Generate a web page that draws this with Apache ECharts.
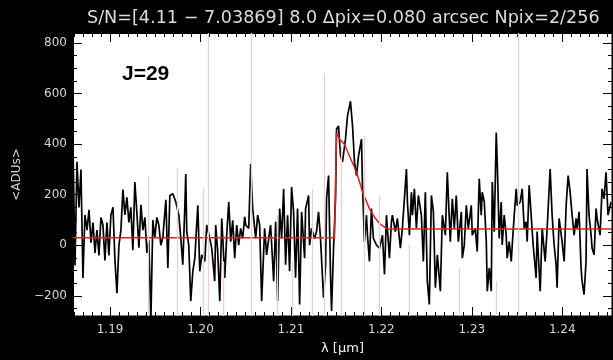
<!DOCTYPE html>
<html>
<head>
    <meta charset="UTF-8">
    <title>J=29 spectrum</title>
    <script src="https://cdn.jsdelivr.net/npm/echarts@6/dist/echarts.min.js"></script>
    <style>
        html, body { margin: 0; padding: 0; background: #000; }
        #main { width: 613px; height: 360px; }
    </style>
</head>
<body>
<div id="main"></div>
<script>
    // wavelength (um) of each sample
    var lambda = [
        1.18590, 1.18612, 1.18634, 1.18656, 1.18678, 1.18700, 1.18722, 1.18745, 1.18767, 1.18789,
        1.18811, 1.18833, 1.18855, 1.18877, 1.18899, 1.18921, 1.18943, 1.18965, 1.18987, 1.19009,
        1.19032, 1.19054, 1.19076, 1.19098, 1.19120, 1.19142, 1.19164, 1.19186, 1.19208, 1.19230,
        1.19252, 1.19274, 1.19296, 1.19319, 1.19341, 1.19363, 1.19385, 1.19407, 1.19429, 1.19451,
        1.19473, 1.19495, 1.19517, 1.19539, 1.19561, 1.19583, 1.19617, 1.19639, 1.19661, 1.19694,
        1.19727, 1.19760, 1.19782, 1.19804, 1.19826, 1.19837, 1.19848, 1.19870, 1.19892, 1.19915,
        1.19937, 1.19970, 1.19992, 1.20014, 1.20047, 1.20069, 1.20102, 1.20124, 1.20157, 1.20168,
        1.20190, 1.20213, 1.20235, 1.20268, 1.20290, 1.20312, 1.20334, 1.20356, 1.20378, 1.20400,
        1.20422, 1.20444, 1.20466, 1.20489, 1.20500, 1.20533, 1.20555, 1.20577, 1.20610, 1.20632,
        1.20654, 1.20676, 1.20709, 1.20731, 1.20764, 1.20775, 1.20809, 1.20831, 1.20853, 1.20875,
        1.20897, 1.20919, 1.20941, 1.20963, 1.20985, 1.21007, 1.21029, 1.21051, 1.21073, 1.21096,
        1.21118, 1.21151, 1.21162, 1.21195, 1.21206, 1.21228, 1.21261, 1.21283, 1.21305, 1.21327,
        1.21360, 1.21383, 1.21394, 1.21416, 1.21438, 1.21449, 1.21471, 1.21493, 1.21504, 1.21526,
        1.21548, 1.21570, 1.21603, 1.21625, 1.21658, 1.21681, 1.21703, 1.21725, 1.21747, 1.21780,
        1.21791, 1.21813, 1.21835, 1.21846, 1.21868, 1.21890, 1.21912, 1.21945, 1.21979, 1.22012,
        1.22034, 1.22056, 1.22089, 1.22111, 1.22122, 1.22155, 1.22177, 1.22210, 1.22232, 1.22277,
        1.22288, 1.22310, 1.22332, 1.22343, 1.22365, 1.22387, 1.22409, 1.22442, 1.22464, 1.22486,
        1.22508, 1.22530, 1.22553, 1.22575, 1.22597, 1.22619, 1.22652, 1.22674, 1.22707, 1.22729,
        1.22762, 1.22784, 1.22806, 1.22828, 1.22851, 1.22884, 1.22895, 1.22917, 1.22939, 1.22961,
        1.22994, 1.23005, 1.23038, 1.23060, 1.23082, 1.23104, 1.23115, 1.23138, 1.23160, 1.23171,
        1.23193, 1.23215, 1.23226, 1.23248, 1.23270, 1.23281, 1.23303, 1.23325, 1.23336, 1.23358,
        1.23380, 1.23391, 1.23413, 1.23436, 1.23447, 1.23469, 1.23491, 1.23502, 1.23535, 1.23557,
        1.23579, 1.23601, 1.23612, 1.23634, 1.23656, 1.23678, 1.23711, 1.23722, 1.23756, 1.23778,
        1.23811, 1.23833, 1.23866, 1.23888, 1.23910, 1.23932, 1.23943, 1.23965, 1.23998, 1.24021,
        1.24043, 1.24065, 1.24087, 1.24109, 1.24131, 1.24153, 1.24164, 1.24186, 1.24208, 1.24219,
        1.24241, 1.24263, 1.24274, 1.24296, 1.24319, 1.24330, 1.24352, 1.24374, 1.24385, 1.24418,
        1.24440, 1.24462, 1.24484, 1.24506, 1.24539
    ];

    // <ADUs> of each sample
    var flux = [
        400, -80, 330, 150, 300, -130, 120, 60, 140, 10,
        90, -30, 60, -40, 110, 80, -60, 90, -40, 120,
        150, -60, -190, 0, 60, 220, 120, 190, 90, 150,
        -20, 250, 130, -10, 160, 60, 110, -30, 20, -300,
        100, 30, 110, 80, 0, 30, 180, -90, 197, 204,
        171, 119, 27, -77, 145, 282, 54, 0, -221, -103,
        -51, 158, -103, -38, -64, 80, 27, -12, -142, 80,
        -25, -221, 106, -129, 40, 171, 14, 99, -51, 80,
        0, 67, 27, 112, 80, 67, 321, 145, 27, 119,
        80, -221, 67, -38, 54, 80, -142, 93, -221, 145,
        27, 223, -77, 119, -103, 230, 132, -129, 145, -234,
        132, -51, 145, 197, 0, 67, 27, 54, 132, 27,
        -208, -77, 184, 276, -129, -260, -12, 184, 460, 472,
        354, 330, 420, 511, 570, 472, 328, 276, 354, 420,
        237, 14, 119, 40, -64, 145, 27, 1, -12, 40,
        -116, 119, -51, 93, 119, 54, 106, -12, 67, 302,
        171, 40, 210, 119, 223, 67, 197, 119, -64, 210,
        -142, -234, 197, 132, -168, -38, -182, 119, 40, 289,
        14, 184, 67, 197, 14, 132, -51, 1, 158, 67,
        158, 40, 67, -25, 263, 119, 210, 171, 14, -182,
        -90, -182, 250, 54, 446, 328, 27, 171, 1, 119,
        40, -51, 14, -64, 1, 119, 223, 158, 171, 223,
        67, 93, 14, 237, 119, 1, -129, 54, -182, 67,
        -64, 67, 302, 119, 1, -77, -168, 106, 14, -64,
        158, 276, 210, 119, 40, 106, 67, 132, -90, -142,
        -195, -64, 302, 119, 40, -12, -38, 145, 106, 40,
        223, 184, 289, 119, 171
    ];

    // red model (continuum + line)
    var modelLambda = [1.1859, 1.21482, 1.21504, 1.21537, 1.21559, 1.21592, 1.21647, 1.21725,
        1.21791, 1.21868, 1.21923, 1.21979, 1.22067, 1.2455];
    var modelFlux = [30, 30, 445, 420, 425, 400, 353, 290, 212, 145, 112, 86, 64, 64];

    // faint sky lines: wavelength and how high they reach
    var skyLambda = [1.19418, 1.19738, 1.20025, 1.20080, 1.20246, 1.20566, 1.20853, 1.21018, 1.21239,
        1.21372, 1.21559, 1.21813, 1.21979, 1.22310, 1.22862, 1.23270, 1.23513];
    var skyTop = [276, 302, 223, 840, -64, 840, 119, -64, 223, 681, 393, 433, 197, 1, -90, -142, 840];

    var xMin = 1.1859, xMax = 1.2455;
    var yMin = -280, yMax = 840;

    var spectrum = lambda.map(function (l, i) { return [l, flux[i]]; });
    var model = modelLambda.map(function (l, i) { return [l, modelFlux[i]]; });
    var skyLines = skyLambda.map(function (l, i) {
        return [{coord: [l, yMin]}, {coord: [l, skyTop[i]]}];
    });

    var labelStyle = {color: '#d6d6d6', fontFamily: 'DejaVu Sans', fontSize: 12};

    function xAxisOpt(pos, showLabel) {
        return {
            type: 'value', position: pos, min: xMin, max: xMax, splitNumber: 6,
            axisLine: {show: true, onZero: false, lineStyle: {color: '#000', width: 1}},
            axisTick: {show: true, inside: true, length: 9, lineStyle: {color: '#000'}},
            minorTick: {show: true, splitNumber: 10, length: 4, lineStyle: {color: '#000'}},
            splitLine: {show: false},
            axisLabel: Object.assign({
                show: showLabel, margin: 8, showMinLabel: false, showMaxLabel: false,
                formatter: function (v) { return v.toFixed(2); }
            }, labelStyle)
        };
    }

    function yAxisOpt(pos, showLabel) {
        return {
            type: 'value', position: pos, min: yMin, max: yMax, splitNumber: 5,
            axisLine: {show: true, onZero: false, lineStyle: {color: '#000', width: 1}},
            axisTick: {show: true, inside: true, length: 9, lineStyle: {color: '#000'}},
            minorTick: {show: true, splitNumber: 4, length: 4, lineStyle: {color: '#000'}},
            splitLine: {show: false},
            axisLabel: Object.assign({
                show: showLabel, margin: 6, showMinLabel: false, showMaxLabel: false,
                formatter: function (v) { return v < 0 ? '\u2212' + Math.abs(v) : String(v); }
            }, labelStyle)
        };
    }

    var xBottom = xAxisOpt('bottom', true);
    xBottom.name = '\u03bb [\u03bcm]';
    xBottom.nameLocation = 'middle';
    xBottom.nameGap = 26;
    xBottom.nameTextStyle = {color: '#f0f0f0', fontFamily: 'DejaVu Sans', fontSize: 13};

    var yLeft = yAxisOpt('left', true);
    yLeft.name = '<ADUs>';
    yLeft.nameLocation = 'middle';
    yLeft.nameGap = 40;
    yLeft.nameTextStyle = {color: '#d6d6d6', fontFamily: 'DejaVu Sans', fontSize: 12};

    var chart = echarts.init(document.getElementById('main'));
    chart.setOption({
        animation: false,
        backgroundColor: '#000',
        title: {
            text: 'S/N=[4.11 \u2212 7.03869] 8.0 \u0394pix=0.080 arcsec Npix=2/256',
            left: 82, top: 4,
            textStyle: {color: '#dcdcdc', fontFamily: 'DejaVu Sans', fontSize: 17.6, fontWeight: 'normal'}
        },
        grid: {
            left: 73, right: 1, top: 33, bottom: 42,
            show: true, backgroundColor: '#fff', borderColor: '#000', borderWidth: 1
        },
        xAxis: [xBottom, xAxisOpt('top', false)],
        yAxis: [yLeft, yAxisOpt('right', false)],
        graphic: [{
            type: 'text', left: 122, top: 64, silent: true,
            style: {text: 'J=29', fill: '#000', font: 'bold 21px "Liberation Sans"'}
        }],
        series: [
            {
                name: 'sky', type: 'line', data: [], z: 1, silent: true,
                markLine: {
                    silent: true, symbol: 'none', label: {show: false},
                    lineStyle: {color: '#ebd0d3', width: 1.3, type: 'solid'},
                    data: skyLines
                }
            },
            {
                name: 'spectrum', type: 'line', data: spectrum, z: 2,
                showSymbol: false, symbol: 'none',
                lineStyle: {color: '#000', width: 1.7}
            },
            {
                name: 'model', type: 'line', data: model, z: 3,
                showSymbol: false, symbol: 'none',
                lineStyle: {color: '#d42424', width: 1.5}
            }
        ]
    });
</script>
</body>
</html>
